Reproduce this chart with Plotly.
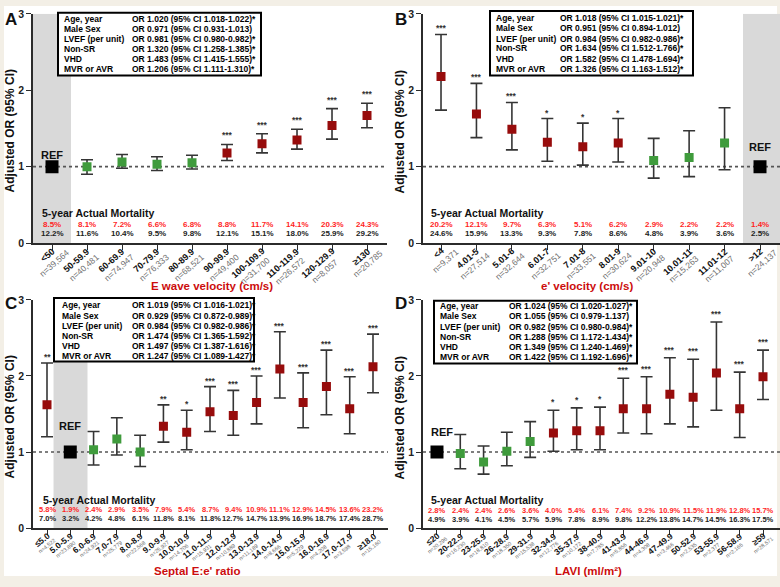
import math
import plotly.graph_objects as go

W, H = 780, 587
FONT = "Arial, 'Liberation Sans', sans-serif"

# ---------------- DATA ----------------
box_labels = ["Age, year", "Male Sex", "LVEF (per unit)", "Non-SR", "VHD", "MVR or AVR"]

# Panel A: E wave velocity
a_cats = ["<50", "50-59.9", "60-69.9", "70-79.9", "80-89.9", "90-99.9", "100-109.9", "110-119.9", "120-129.9", "≥130"]
a_n = ["39,564", "40,481", "74,947", "76,333", "68,521", "49,400", "31,700", "26,572", "8,057", "20,785"]
a_or = [1.00, 1.00, 1.06, 1.03, 1.05, 1.18, 1.30, 1.35, 1.54, 1.67]
a_lo = [1.00, 0.90, 0.98, 0.95, 0.97, 1.08, 1.18, 1.23, 1.36, 1.51]
a_hi = [1.00, 1.09, 1.16, 1.13, 1.15, 1.29, 1.43, 1.49, 1.76, 1.83]
a_sig = ["REF", "", "", "", "", "***", "***", "***", "***", "***"]
a_mort_adj = [8.5, 8.1, 7.2, 6.6, 6.8, 8.8, 11.7, 14.1, 20.3, 24.3]
a_mort_act = [12.2, 11.6, 10.4, 9.5, 9.8, 12.1, 15.1, 18.0, 25.9, 29.2]
a_box = ["OR 1.020 (95% CI 1.018-1.022)*", "OR 0.971 (95% CI 0.931-1.013)",
         "OR 0.981 (95% CI 0.980-0.982)*", "OR 1.320 (95% CI 1.258-1.385)*",
         "OR 1.483 (95% CI 1.415-1.555)*", "OR 1.206 (95% CI 1.111-1.310)*"]

# Panel B: e' velocity
b_cats = ["<4", "4.01-5", "5.01-6", "6.01-7", "7.01-8", "8.01-9", "9.01-10", "10.01-11", "11.01-12", ">12"]
b_n = ["9,371", "27,514", "32,644", "32,751", "33,551", "30,624", "20,948", "15,263", "11,007", "24,137"]
b_or = [2.18, 1.69, 1.49, 1.32, 1.26, 1.31, 1.08, 1.12, 1.31, 1.00]
b_lo = [1.74, 1.38, 1.22, 1.07, 1.02, 1.06, 0.85, 0.87, 0.96, 1.00]
b_hi = [2.73, 2.09, 1.84, 1.63, 1.57, 1.63, 1.37, 1.47, 1.77, 1.00]
b_sig = ["***", "***", "***", "*", "*", "*", "", "", "", "REF"]
b_mort_adj = [20.2, 12.1, 9.7, 6.3, 5.1, 6.2, 2.9, 2.2, 2.2, 1.4]
b_mort_act = [24.6, 15.9, 13.3, 9.3, 7.8, 8.6, 4.8, 3.9, 3.6, 2.5]
b_box = ["OR 1.018 (95% CI 1.015-1.021)*", "OR 0.951 (95% CI 0.894-1.012)",
         "OR 0.984 (95% CI 0.982-0.986)*", "OR 1.634 (95% CI 1.512-1.766)*",
         "OR 1.582 (95% CI 1.478-1.694)*", "OR 1.326 (95% CI 1.163-1.512)*"]

# Panel C: Septal E:e' ratio
c_cats = ["≤5.0", "5.0-5.9", "6.0-6.9", "7.0-7.9", "8.0-8.9", "9.0-9.9", "10.0-10.9", "11.0-11.9",
          "12.0-12.9", "13.0-13.9", "14.0-14.9", "15.0-15.9", "16.0-16.9", "17.0-17.9", "≥18.0"]
c_n = ["4,522", "23,890", "24,921", "25,779", "22,568", "25,927", "14,706", "15,931",
       "10,889", "11,189", "8,666", "5,229", "4,208", "3,598", "15,160"]
c_or = [1.62, 1.00, 1.03, 1.17, 1.00, 1.34, 1.26, 1.53, 1.48, 1.65, 2.09, 1.65, 1.86, 1.57, 2.12]
c_lo = [1.20, 1.00, 0.83, 0.96, 0.81, 1.13, 1.03, 1.27, 1.22, 1.37, 1.71, 1.32, 1.49, 1.24, 1.78]
c_hi = [2.17, 1.00, 1.27, 1.45, 1.22, 1.62, 1.55, 1.86, 1.81, 2.00, 2.58, 2.04, 2.34, 1.99, 2.55]
c_sig = ["**", "REF", "", "", "", "**", "*", "***", "***", "***", "***", "***", "***", "***", "***"]
c_mort_adj = [5.8, 1.9, 2.4, 2.9, 3.5, 7.9, 5.4, 8.7, 9.4, 10.9, 11.1, 12.9, 14.5, 13.6, 23.2]
c_mort_act = [7.0, 3.2, 4.2, 4.8, 6.1, 11.8, 8.1, 11.8, 12.7, 14.7, 13.9, 16.9, 18.7, 17.4, 28.7]
c_box = ["OR 1.019 (95% CI 1.016-1.021)*", "OR 0.929 (95% CI 0.872-0.989)*",
         "OR 0.984 (95% CI 0.982-0.986)*", "OR 1.474 (95% CI 1.365-1.592)*",
         "OR 1.497 (95% CI 1.387-1.616)*", "OR 1.247 (95% CI 1.089-1.427)*"]

# Panel D: LAVI
d_cats = ["≤20", "20-22.9", "23-25.9", "26-28.9", "29-31.9", "32-34.9", "35-37.9", "38-40.9",
          "41-43.9", "44-46.9", "47-49.9", "50-52.9", "53-55.9", "56-58.9", "≥59"]
d_n = ["20,296", "16,230", "18,810", "18,350", "15,538", "12,776", "10,172", "7,785",
       "5,856", "4,308", "3,466", "2,535", "2,377", "2,165", "28,571"]
d_or = [1.00, 0.98, 0.87, 1.01, 1.14, 1.25, 1.28, 1.28, 1.57, 1.57, 1.76, 1.72, 2.04, 1.57, 1.99]
d_lo = [1.00, 0.78, 0.71, 0.82, 0.93, 1.01, 1.03, 1.03, 1.25, 1.24, 1.37, 1.33, 1.55, 1.19, 1.69]
d_hi = [1.00, 1.23, 1.08, 1.26, 1.40, 1.55, 1.58, 1.59, 1.97, 1.99, 2.24, 2.22, 2.71, 2.05, 2.34]
d_sig = ["REF", "", "", "", "", "*", "*", "*", "***", "***", "***", "***", "***", "***", "***"]
d_mort_adj = [2.8, 2.4, 2.4, 2.6, 3.6, 4.0, 5.4, 6.1, 7.4, 9.2, 10.9, 11.5, 11.9, 12.8, 15.7]
d_mort_act = [4.9, 3.9, 4.1, 4.5, 5.7, 5.9, 7.8, 8.9, 9.8, 12.2, 13.8, 14.7, 14.5, 16.3, 17.5]
d_box = ["OR 1.024 (95% CI 1.020-1.027)*", "OR 1.055 (95% CI 0.979-1.137)",
         "OR 0.982 (95% CI 0.980-0.984)*", "OR 1.288 (95% CI 1.172-1.434)*",
         "OR 1.349 (95% CI 1.240-1.469)*", "OR 1.422 (95% CI 1.192-1.696)*"]

# ---------------- STYLE / GEOMETRY ----------------
RED_MK = "#970c0c"
GREEN_MK = "#3f9b3c"
ERR_C = "#353535"
AX_C = "#2b2b2b"
TITLE_RED = "#cc0d0d"
MORT_RED = "#ff1f1f"

panels = [
    dict(letter="A", n_ax="", cats=a_cats, n=a_n, orv=a_or, lo=a_lo, hi=a_hi, sig=a_sig,
         madj=a_mort_adj, mact=a_mort_act, box=a_box, xtitle="E wave velocity (cm/s)",
         xdom=(33, 387), ydom=(8, 242), xr=(-0.543, 9.571), band=(-0.543, 0.543),
         xt=(212, 286), let=(3, 2), boxr=(58, 7, 261, 71), cols=(62, 130),
         rows=[13.3, 23.3, 33.3, 44.0, 54.3, 64.3], mort=(40, 211, 223, 232), mf=8,
         refoff=(0, 12), ytx=10, ytc=128, ang=41, f1=9, f2=8.5, d=10, star=11),
    dict(letter="B", n_ax="2", cats=b_cats, n=b_n, orv=b_or, lo=b_lo, hi=b_hi, sig=b_sig,
         madj=b_mort_adj, mact=b_mort_act, box=b_box, xtitle="e' velocity (cm/s)",
         xdom=(423, 780), ydom=(8, 242), xr=(-0.508, 9.564), band=(8.52, 9.564),
         xt=(587, 286), let=(393, 2), boxr=(490, 5, 693, 71), cols=(494, 558),
         rows=[12.3, 22.7, 33.3, 43.3, 54.0, 64.0], mort=(429, 211, 223, 232), mf=8,
         refoff=(0, 20), ytx=400, ytc=128, ang=41, f1=9, f2=8.5, d=10, star=8),
    dict(letter="C", n_ax="3", cats=c_cats, n=c_n, orv=c_or, lo=c_lo, hi=c_hi, sig=c_sig,
         madj=c_mort_adj, mact=c_mort_act, box=c_box, xtitle="Septal E:e' ratio",
         xdom=(33, 388), ydom=(300, 533), xr=(-0.601, 14.644), band=(0.28, 1.74),
         xt=(197, 577), let=(3, 292), boxr=(54, 298, 254, 363), cols=(60, 130),
         rows=[305.7, 316.0, 326.7, 336.7, 347.3, 357.7], mort=(41, 504, 514.5, 523.5), mf=7.5,
         refoff=(0, 26), ytx=10, ytc=420, ang=38, f1=8.5, f2=5.5, d=7.5, star=8),
    dict(letter="D", n_ax="4", cats=d_cats, n=d_n, orv=d_or, lo=d_lo, hi=d_hi, sig=d_sig,
         madj=d_mort_adj, mact=d_mort_act, box=d_box, xtitle="LAVI (ml/m²)",
         xdom=(423, 780), ydom=(300, 533), xr=(-0.601, 14.73), band=None,
         xt=(588, 577), let=(393, 292), boxr=(434, 301, 637, 365), cols=(438, 507),
         rows=[306.7, 316.7, 327.3, 337.7, 348.3, 358.3], mort=(429, 504, 515.5, 524.5), mf=7.5,
         refoff=(5, 20), ytx=400, ytc=420, ang=38, f1=8.5, f2=5.5, d=7.5, star=10),
]

BOLD_W = {c: 556 for c in "0123456789"}
BOLD_W.update({".": 278, ",": 278, "-": 333, "<": 584, ">": 584, "≤": 549, "≥": 549, "=": 584, "n": 611})


def text_w(s, size):
    return sum(BOLD_W.get(ch, 556) for ch in s) / 1000.0 * size


def px(xp):
    return xp / W


def py(yp):
    return 1 - yp / H


fig = go.Figure()
shapes = []
ann = []

# white page with thin beige border
shapes.append(dict(type="rect", xref="paper", yref="paper", x0=px(4), x1=px(777), y0=py(582), y1=py(0),
                   fillcolor="white", line=dict(width=0), layer="below"))

for p in panels:
    k = p["n_ax"]
    xa, ya = "x" + k, "y" + k
    ncat = len(p["cats"])
    idx = list(range(ncat))

    # axes
    fig.layout["xaxis" + k] = dict(domain=[px(p["xdom"][0]), px(p["xdom"][1])], range=list(p["xr"]),
                                   anchor=ya, showgrid=False, zeroline=False, showline=True,
                                   linecolor=AX_C, linewidth=1.5, ticks="outside", ticklen=5,
                                   tickwidth=1.3, tickcolor=AX_C, tickvals=idx, showticklabels=False,
                                   fixedrange=True)
    fig.layout["yaxis" + k] = dict(domain=[py(p["ydom"][1]), py(p["ydom"][0])], range=[0, 3],
                                   anchor=xa, showgrid=False, zeroline=False, showline=True,
                                   linecolor=AX_C, linewidth=1.5, ticks="outside", ticklen=5,
                                   tickwidth=1.3, tickcolor=AX_C, tickvals=[0, 1, 2, 3],
                                   tickfont=dict(family=FONT, size=10.5, color="#222", weight="bold"),
                                   fixedrange=True)

    # grey reference band, then dotted line at OR=1
    if p["band"]:
        shapes.append(dict(type="rect", xref=xa, yref=ya, x0=p["band"][0], x1=p["band"][1], y0=0, y1=3,
                           fillcolor="#d9d9d9", line=dict(width=0), layer="below"))
    shapes.append(dict(type="line", xref=xa, yref=ya, x0=p["xr"][0], x1=p["xr"][1], y0=1, y1=1,
                       line=dict(color="#555", width=1.6, dash="dot"), layer="below"))

    # estimates with CIs
    ys, ep, em, cols = [], [], [], []
    for i in idx:
        if p["sig"][i] == "REF":
            ys.append(None); ep.append(0); em.append(0); cols.append("black")
        else:
            ys.append(p["orv"][i])
            ep.append(round(p["hi"][i] - p["orv"][i], 3))
            em.append(round(p["orv"][i] - p["lo"][i], 3))
            cols.append(RED_MK if p["sig"][i] else GREEN_MK)
    fig.add_trace(go.Scatter(x=idx, y=ys, xaxis=xa, yaxis=ya, mode="markers", showlegend=False,
                             marker=dict(symbol="square", size=9, color=cols, line=dict(width=0)),
                             error_y=dict(type="data", array=ep, arrayminus=em, color=ERR_C,
                                          thickness=1.6, width=6)))
    ri = p["sig"].index("REF")
    fig.add_trace(go.Scatter(x=[ri], y=[p["orv"][ri]], xaxis=xa, yaxis=ya, mode="markers",
                             showlegend=False, marker=dict(symbol="square", size=13, color="black")))
    ann.append(dict(x=ri, y=p["orv"][ri], xref=xa, yref=ya, text="REF", showarrow=False,
                    xshift=p["refoff"][0], yshift=p["refoff"][1], xanchor="center", yanchor="middle",
                    font=dict(family=FONT, size=11, color="#111", weight="bold")))

    # significance stars
    for i in idx:
        s = p["sig"][i]
        if s and s != "REF":
            ann.append(dict(x=i, y=p["hi"][i], xref=xa, yref=ya, text=s, showarrow=False,
                            xanchor="center", yanchor="middle", yshift=p["star"] - 2,
                            font=dict(family=FONT, size=8.5, color="#333", weight="bold")))

    # mortality rows
    mx, mty, mry, mby = p["mort"]
    ann.append(dict(x=px(mx), y=py(mty), xref="paper", yref="paper", text="5-year Actual Mortality",
                    showarrow=False, xanchor="left", yanchor="middle",
                    font=dict(family=FONT, size=10.5, color="#111", weight="bold")))
    for i in idx:
        ann.append(dict(x=i, y=py(mry), xref=xa, yref="paper", text=f"{p['madj'][i]:.1f}%",
                        showarrow=False, xanchor="center", yanchor="middle",
                        font=dict(family=FONT, size=p["mf"], color=MORT_RED, weight="bold")))
        ann.append(dict(x=i, y=py(mby), xref=xa, yref="paper", text=f"{p['mact'][i]:.1f}%",
                        showarrow=False, xanchor="center", yanchor="middle",
                        font=dict(family=FONT, size=p["mf"], color="#222", weight="bold")))

    # rotated category labels with n
    th = math.radians(p["ang"])
    ux, uy = math.cos(th), -math.sin(th)
    vx, vy = math.sin(th), math.cos(th)
    ex, ey = 1.5, 7.0
    for i in idx:
        w1 = text_w(p["cats"][i], p["f1"])
        c1x = ex - w1 / 2 * ux
        c1y = ey - w1 / 2 * uy
        c2x = c1x + p["d"] * vx
        c2y = c1y + p["d"] * vy
        ann.append(dict(x=i, y=0, xref=xa, yref=ya, text=p["cats"][i], showarrow=False,
                        textangle=-p["ang"], xanchor="center", yanchor="middle",
                        xshift=c1x, yshift=-c1y,
                        font=dict(family=FONT, size=p["f1"], color="#111", weight="bold")))
        ann.append(dict(x=i, y=0, xref=xa, yref=ya, text="n=" + p["n"][i], showarrow=False,
                        textangle=-p["ang"], xanchor="center", yanchor="middle",
                        xshift=c2x, yshift=-c2y,
                        font=dict(family=FONT, size=p["f2"], color="#6e6e6e")))

    # x title, y title, panel letter
    ann.append(dict(x=px(p["xt"][0]), y=py(p["xt"][1]), xref="paper", yref="paper", text=p["xtitle"],
                    showarrow=False, xanchor="center", yanchor="middle",
                    font=dict(family=FONT, size=11.5, color=TITLE_RED, weight="bold")))
    ann.append(dict(x=px(p["ytx"]), y=py(p["ytc"]), xref="paper", yref="paper", text="Adjusted OR (95% CI)",
                    showarrow=False, textangle=-90, xanchor="center", yanchor="middle",
                    font=dict(family=FONT, size=12, color="#111", weight="bold")))
    ann.append(dict(x=px(p["let"][0]), y=py(p["let"][1]), xref="paper", yref="paper", text=p["letter"],
                    showarrow=False, xanchor="left", yanchor="top",
                    font=dict(family=FONT, size=17, color="#111", weight="bold")))

    # covariate box
    bx0, by0, bx1, by1 = p["boxr"]
    shapes.append(dict(type="rect", xref="paper", yref="paper", x0=px(bx0), x1=px(bx1), y0=py(by1), y1=py(by0),
                       fillcolor="white", line=dict(color="black", width=2), layer="above"))
    for r, lab, val in zip(p["rows"], box_labels, p["box"]):
        ann.append(dict(x=px(p["cols"][0]), y=py(r), xref="paper", yref="paper", text=lab, showarrow=False,
                        xanchor="left", yanchor="middle",
                        font=dict(family=FONT, size=8.5, color="#000", weight="bold")))
        ann.append(dict(x=px(p["cols"][1]), y=py(r), xref="paper", yref="paper", text=val, showarrow=False,
                        xanchor="left", yanchor="middle",
                        font=dict(family=FONT, size=8.5, color="#000", weight="bold")))

fig.update_layout(width=W, height=H, autosize=False, margin=dict(l=0, r=0, t=0, b=0),
                  paper_bgcolor="#f3efe6", plot_bgcolor="rgba(0,0,0,0)",
                  font=dict(family=FONT), shapes=shapes, annotations=ann, showlegend=False)

fig.write_html("out.html", config={"displayModeBar": False},
               post_script="document.body.style.margin='0';document.body.style.padding='0';"
                           "document.documentElement.style.overflow='hidden';")
